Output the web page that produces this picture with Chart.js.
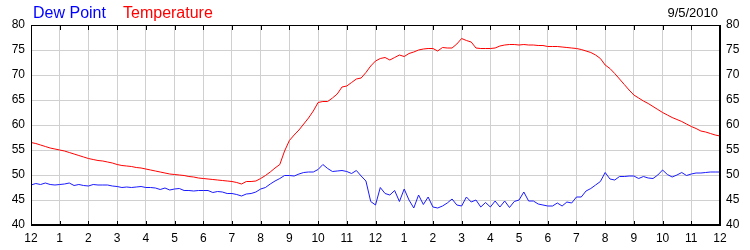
<!DOCTYPE html>
<html>
<head>
<meta charset="utf-8">
<script src="https://cdn.jsdelivr.net/npm/chart.js@4"></script>
<style>
  html, body { margin: 0; padding: 0; background: #fff; }
  #box { width: 750px; height: 250px; }
</style>
</head>
<body>
<div id="box"><canvas id="weather"></canvas></div>
<script>
// readings every 10 minutes, midnight to midnight (9/5/2010)
const stepMinutes = 10;
const chartDate = "9/5/2010";

const temperature = [
    56.5, 56.3, 56.0, 55.7, 55.4, 55.2,
    55.0, 54.8, 54.5, 54.2, 53.9, 53.6,
    53.3, 53.1, 52.9, 52.8, 52.6, 52.4,
    52.1, 51.9, 51.8, 51.7, 51.5, 51.4,
    51.2, 51.0, 50.8, 50.6, 50.4, 50.2,
    50.1, 50.0, 49.9, 49.7, 49.6, 49.4,
    49.3, 49.2, 49.1, 49.0, 48.9, 48.8,
    48.7, 48.5, 48.2, 48.7, 48.7, 48.8,
    49.3, 49.9, 50.6, 51.4, 52.1, 54.8,
    56.9, 58.0, 59.0, 60.2, 61.4, 62.8,
    64.5, 64.7, 64.7, 65.4, 66.2, 67.6,
    67.8, 68.5, 69.2, 69.4, 70.5, 71.8,
    72.8, 73.3, 73.5, 73.0, 73.5, 74.0,
    73.7, 74.3, 74.6, 75.0, 75.2, 75.3,
    75.3, 74.8, 75.5, 75.4, 75.4, 76.2,
    77.3, 76.9, 76.6, 75.4, 75.3, 75.3,
    75.3, 75.4, 75.8, 76.0, 76.1, 76.1,
    76.0, 76.1, 76.0, 76.0, 75.9, 75.9,
    75.7, 75.7, 75.7, 75.6, 75.5, 75.4,
    75.3, 75.1, 74.8, 74.5, 74.0, 73.3,
    72.0, 71.3, 70.3, 69.2, 68.1, 67.0,
    66.0, 65.4, 64.8, 64.3, 63.7, 63.1,
    62.5, 62.0, 61.5, 61.1, 60.7, 60.2,
    59.7, 59.3, 58.8, 58.6, 58.3, 58.0,
    57.8
];

const dewPoint = [
    48.0, 48.3, 48.1, 48.4, 48.1, 48.0,
    48.1, 48.2, 48.4, 47.9, 48.1, 47.9,
    47.8, 48.1, 48.0, 48.0, 48.0, 47.8,
    47.7, 47.5, 47.6, 47.5, 47.6, 47.7,
    47.5, 47.5, 47.4, 47.1, 47.4, 47.0,
    47.2, 47.3, 46.9, 46.9, 46.8, 46.9,
    46.9, 46.9, 46.5, 46.7, 46.6, 46.3,
    46.3, 46.1, 45.8, 46.2, 46.3, 46.6,
    47.2, 47.5, 48.2, 48.8, 49.3, 49.9,
    49.9, 49.8, 50.2, 50.5, 50.6, 50.6,
    51.1, 52.1, 51.3, 50.7, 50.8, 50.9,
    50.7, 50.3, 50.9, 49.8, 48.8, 44.7,
    44.0, 47.5, 46.3, 46.0, 46.9, 44.7,
    47.2, 45.0, 43.4, 46.0, 44.1, 45.6,
    43.6, 43.4, 43.8, 44.4, 45.2, 44.0,
    43.8, 45.6, 44.6, 45.0, 43.6, 44.5,
    43.6, 44.8, 43.6, 44.8, 43.5, 44.7,
    45.0, 46.6, 44.8, 44.8, 44.2, 44.0,
    43.8, 43.8, 44.4, 43.8, 44.6, 44.4,
    45.6, 45.6, 46.8, 47.3, 48.0, 48.7,
    50.5, 49.2, 49.0, 49.7, 49.7, 49.8,
    49.8, 49.3, 49.7, 49.4, 49.3, 50.0,
    51.0, 50.1, 49.6, 50.0, 50.5, 49.9,
    50.2, 50.4, 50.4, 50.5, 50.6, 50.6,
    50.6
];

const hourTicks = [12, 1, 2, 3, 4, 5, 6, 7, 8, 9, 10, 11, 12, 1, 2, 3, 4, 5, 6, 7, 8, 9, 10, 11, 12];

// hour of day for each reading
const hours = temperature.map((v, i) => i * stepMinutes / 60);

const font = "'Liberation Sans', Arial, sans-serif";

// legend text, date, frame and the small inward hour ticks
const framePlugin = {
    id: 'frame',
    afterDraw(chart) {
        const ctx = chart.ctx;
        const area = chart.chartArea;
        const x = chart.scales.x;
        ctx.save();
        ctx.strokeStyle = '#000';
        ctx.lineWidth = 1;
        ctx.strokeRect(Math.round(area.left) + 0.5, Math.round(area.top) + 0.5,
            Math.round(area.right - area.left) - 1, Math.round(area.bottom - area.top) - 1);
        ctx.beginPath();
        for (let h = 0; h <= 24; h++) {
            let px = Math.round(x.getPixelForValue(h)) + 0.5;
            ctx.moveTo(px, area.bottom);
            ctx.lineTo(px, area.bottom - 4);
            ctx.moveTo(px, area.top);
            ctx.lineTo(px, area.top + 5);
        }
        ctx.stroke();

        ctx.textBaseline = 'alphabetic';
        ctx.font = '16px ' + font;
        ctx.textAlign = 'left';
        ctx.fillStyle = '#0000ff';
        ctx.fillText('Dew Point', 33, 18);
        ctx.fillStyle = '#ff0000';
        ctx.fillText('Temperature', 123, 18);
        ctx.font = '13px ' + font;
        ctx.textAlign = 'right';
        ctx.fillStyle = '#000';
        ctx.fillText(chartDate, 718, 17);
        ctx.restore();
    }
};

const weatherChart = new Chart("weather", {
    type: 'line',
    data: {
        datasets: [{
            label: 'Dew Point',
            data: dewPoint.map((v, i) => ({x: hours[i], y: v})),
            borderColor: '#1a1aff',
            borderWidth: 1,
            pointRadius: 0,
            tension: 0,
            yAxisID: 'y'
        },
        {
            label: 'Temperature',
            data: temperature.map((v, i) => ({x: hours[i], y: v})),
            borderColor: '#ff0000',
            borderWidth: 1,
            pointRadius: 0,
            tension: 0,
            yAxisID: 'y'
        }]
    },
    options: {
        responsive: true,
        maintainAspectRatio: false,
        animation: false,
        layout: {
            padding: {top: 25, left: 0, right: 0, bottom: 0}
        },
        scales: {
            x: {
                type: 'linear',
                min: 0,
                max: 24,
                afterFit: s => { s.height = 25; },
                grid: {
                    color: '#d0d0d0',
                    drawTicks: false
                },
                border: {color: '#000'},
                ticks: {
                    stepSize: 1,
                    autoSkip: false,
                    maxRotation: 0,
                    padding: 6,
                    color: '#000',
                    font: {family: font, size: 12},
                    callback: (v) => hourTicks[v]
                }
            },
            y: {
                type: 'linear',
                position: 'left',
                min: 40,
                max: 80,
                afterFit: s => { s.width = 31; },
                grid: {
                    color: '#d0d0d0',
                    drawTicks: false
                },
                border: {color: '#000'},
                ticks: {
                    stepSize: 5,
                    padding: 6,
                    color: '#000',
                    font: {family: font, size: 12}
                }
            },
            y2: {
                type: 'linear',
                position: 'right',
                min: 40,
                max: 80,
                afterFit: s => { s.width = 30; },
                grid: {
                    display: false,
                    drawTicks: false
                },
                border: {color: '#000'},
                ticks: {
                    stepSize: 5,
                    padding: 6,
                    color: '#000',
                    font: {family: font, size: 12}
                }
            }
        },
        plugins: {
            legend: {display: false},
            tooltip: {enabled: false}
        }
    },
    plugins: [framePlugin]
});
</script>
</body>
</html>
